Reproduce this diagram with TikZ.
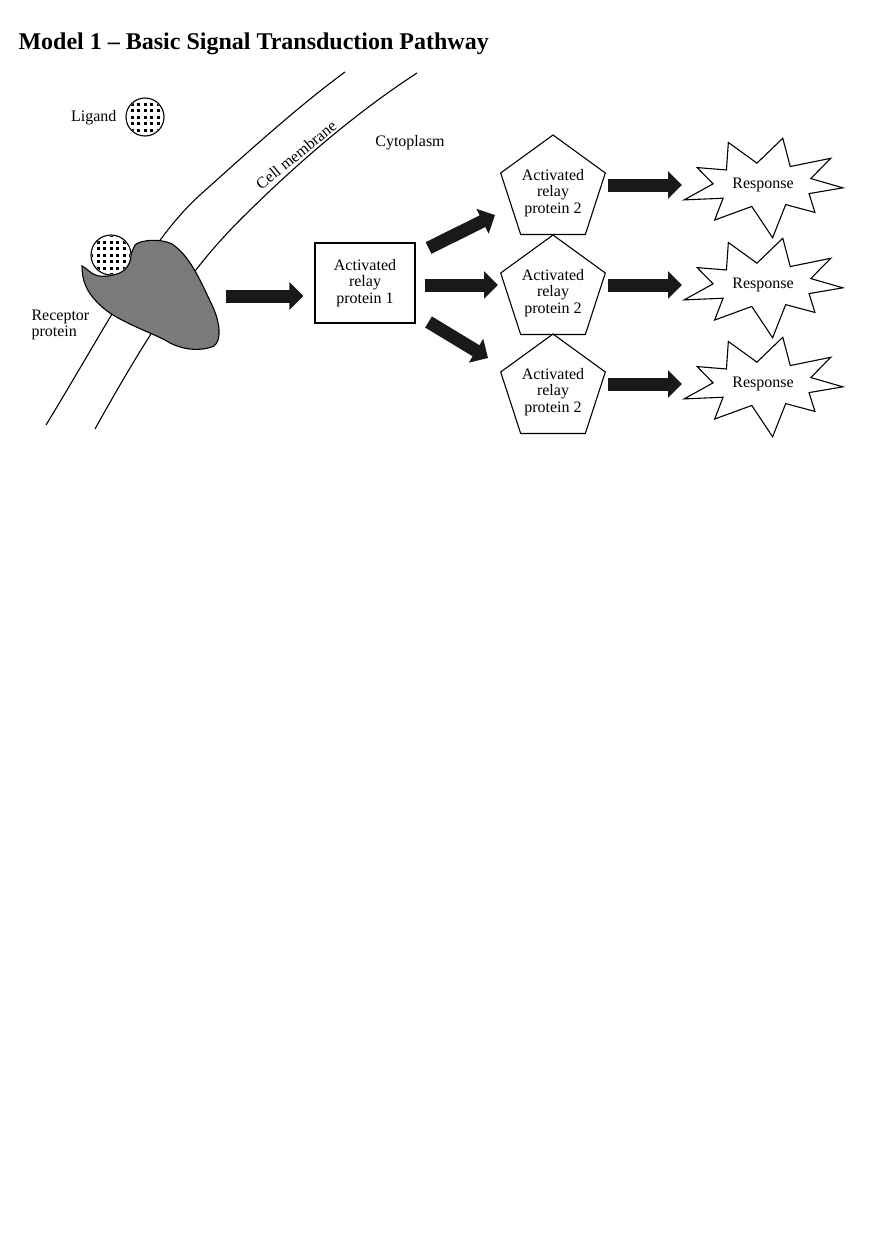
\documentclass[tikz,border=0pt]{standalone}
\usepackage{fontspec}
\setmainfont{Liberation Serif}
\usetikzlibrary{arrows.meta,shapes.geometric}
\begin{document}
\begin{tikzpicture}[x=1pt,y=-1pt,line width=1.1pt,
  lbl/.style={font=\fontsize{16}{16.5}\selectfont,align=center,inner sep=0},
  bigarrow/.style={line width=13pt,-{Triangle[length=14pt,width=27pt]},black!90},
  pent/.style={draw,line width=1.1pt,regular polygon,regular polygon sides=5,minimum size=110pt,inner sep=0},
  dotball/.style={draw,fill=white}]
\useasboundingbox (0,0) rectangle (880,1247);
\fill[white] (0,0) rectangle (880,1247);
\node[anchor=base west,font=\bfseries\fontsize{24}{26}\selectfont,inner sep=0] (title) at (18,49) {Model 1 – Basic Signal Transduction Pathway};
% membrane
\draw (46,425) .. controls (110,320) and (150,240) .. (200,195) .. controls (250,150) and (300,105) .. (345,72);
\draw (95,429) .. controls (150,330) and (190,270) .. (240,220) .. controls (300,160) and (360,110) .. (417,73);
\node[lbl,rotate=39] (cm) at (296,155) {Cell membrane};
\node[lbl] (cyto) at (410,143) {Cytoplasm};
% ligand
\node[lbl,anchor=east] (lig) at (117,118) {Ligand};
\node[dotball,circle,minimum size=38pt,inner sep=0] (ball) at (145,117) {};
\begin{scope}
\clip (ball.center) circle (18);
\foreach \i in {-3,...,3} \foreach \j in {-3,...,3}
  \fill ([shift={(\i*6.5-1.5,\j*6.5-1.5)}]ball.center) rectangle +(3.2,3.2);
\end{scope}
% receptor
\draw[fill=gray!70!black!80] (82,266) .. controls (90,270) and (92,278) .. (108,276) .. controls (125,274) and (130,255) .. (135,245)
  .. controls (140,240) and (160,238) .. (172,244) .. controls (190,256) and (200,280) .. (212,305)
  .. controls (220,322) and (222,340) .. (214,346) .. controls (200,352) and (180,350) .. (165,340)
  .. controls (145,330) and (115,320) .. (100,305) .. controls (86,292) and (82,280) .. (82,266) -- cycle;
\node[dotball,circle,minimum size=40pt,inner sep=0] (ball2) at (111,255) {};
\begin{scope}
\clip (ball2.center) circle (19);
\foreach \i in {-3,...,3} \foreach \j in {-3,...,3}
  \fill ([shift={(\i*6.5-1.5,\j*6.5-1.5)}]ball2.center) rectangle +(3.2,3.2);
\end{scope}
\node[lbl,align=left,anchor=west] (rec) at (31,325) {Receptor\\protein};
% relay 1
\node[draw,minimum width=100pt,minimum height=80pt,lbl] (r1) at (365,283) {Activated\\relay\\protein 1};
\coordinate (rcp) at (218,296);
\draw[bigarrow] ([xshift=8pt]rcp) -- ([xshift=-11pt]r1.west|-rcp);
% relay 2 pentagons
\foreach \k/\y in {1/190,2/290,3/389}{
  \node[pent] (p\k) at (553,\y) {};
  \node[lbl] at ([yshift=-3]p\k.center) {Activated\\relay\\protein 2};
  \node[lbl] (s\k) at (763,\y-5) {Response};
  \draw[fill=white,shift={(s\k.center)}] plot[samples at={0,...,17},variable=\t]
    ({(mod(\t,2)==0 ? 80+9*sin(\t*137) : 50)*cos(\t*20+3)},{(mod(\t,2)==0 ? 47+7*cos(\t*97) : 22)*sin(\t*20+3)}) -- cycle;
  \node[lbl] at (s\k) {Response};
  \draw[bigarrow] (p\k.center)++(55,-5) -- ++(74,0);
}
\draw[bigarrow] ([shift={(13,-35)}]r1.east) -- ([shift={(-58,25)}]p1.center);
\draw[bigarrow] ([shift={(9,2)}]r1.east) -- ([shift={(-55,-5)}]p2.center);
\draw[bigarrow] ([shift={(13,39)}]r1.east) -- ([shift={(-65,-31)}]p3.center);
\end{tikzpicture}
\end{document}
